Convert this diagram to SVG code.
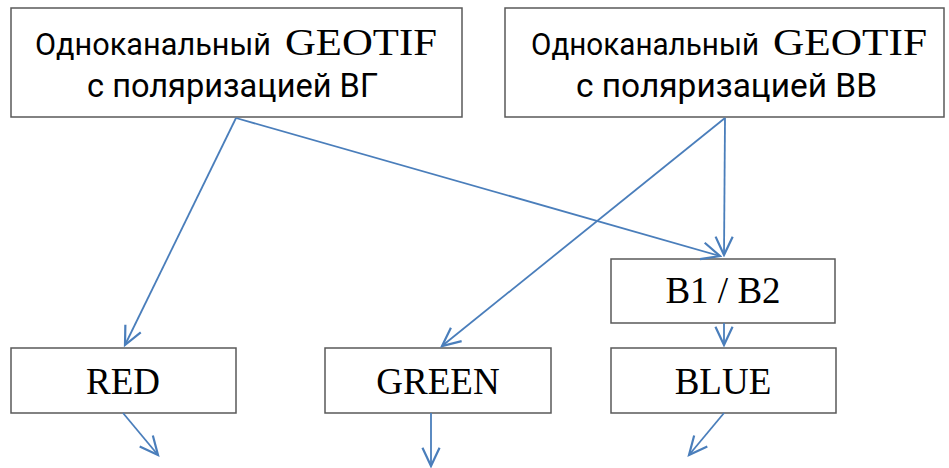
<svg xmlns="http://www.w3.org/2000/svg" width="949" height="468" viewBox="0 0 949 468">
  <style>
    .box { fill: #ffffff; stroke: #595959; stroke-width: 1.5; }
    .sans { font-family: Roboto, "Noto Sans", "DejaVu Sans", sans-serif; font-size: 34px; fill: #000000; }
    .sans.head { font-size: 32px; }
    .serif { font-family: "Liberation Serif", "Times New Roman", serif; font-size: 37px; fill: #000000; }
    .link { fill: none; stroke: #4a7ebb; stroke-width: 1.8; marker-end: url(#vhead); }
  </style>
  <defs>
    <marker id="vhead" markerUnits="userSpaceOnUse" markerWidth="22" markerHeight="22" refX="16" refY="8" orient="auto" viewBox="0 0 18 16">
      <path d="M1,1 L16,8 L1,15" fill="none" stroke="#4a7ebb" stroke-width="1.8"/>
    </marker>
  </defs>
  <rect width="949" height="468" fill="#ffffff"/>

  <g id="src-vh">
    <rect class="box" x="11" y="8" width="451" height="109"/>
    <text class="sans head" x="35" y="55" textLength="236" lengthAdjust="spacingAndGlyphs">Одноканальный</text>
    <text class="serif" x="285" y="55" textLength="152" lengthAdjust="spacingAndGlyphs">GEOTIF</text>
    <text class="sans" x="87" y="97" textLength="291" lengthAdjust="spacingAndGlyphs">с поляризацией ВГ</text>
  </g>

  <g id="src-vv">
    <rect class="box" x="505" y="8" width="439" height="109"/>
    <text class="sans head" x="531" y="55" textLength="228" lengthAdjust="spacingAndGlyphs">Одноканальный</text>
    <text class="serif" x="773" y="55" textLength="154" lengthAdjust="spacingAndGlyphs">GEOTIF</text>
    <text class="sans" x="576" y="97" textLength="301" lengthAdjust="spacingAndGlyphs">с поляризацией ВВ</text>
  </g>

  <g id="ratio">
    <rect class="box" x="611" y="259" width="224" height="64"/>
    <text class="serif" x="723" y="303" text-anchor="middle">B1 / B2</text>
  </g>

  <g id="red">
    <rect class="box" x="11" y="348" width="225" height="65"/>
    <text class="serif" x="123" y="394" text-anchor="middle">RED</text>
  </g>

  <g id="green">
    <rect class="box" x="325" y="348" width="226" height="65"/>
    <text class="serif" x="438" y="394" text-anchor="middle">GREEN</text>
  </g>

  <g id="blue">
    <rect class="box" x="611" y="348" width="225" height="65"/>
    <text class="serif" x="723" y="394" text-anchor="middle">BLUE</text>
  </g>

  <g id="connectors">
    <line class="link" x1="236" y1="118" x2="125" y2="345"/>
    <line class="link" x1="236" y1="118" x2="720" y2="256"/>
    <line class="link" x1="725" y1="118" x2="724" y2="255"/>
    <line class="link" x1="725" y1="118" x2="442" y2="346"/>
    <line class="link" x1="724" y1="323" x2="724" y2="345"/>
    <line class="link" x1="123" y1="413" x2="158" y2="455"/>
    <line class="link" x1="431" y1="413" x2="431" y2="466"/>
    <line class="link" x1="724" y1="413" x2="689" y2="455"/>
  </g>
</svg>
